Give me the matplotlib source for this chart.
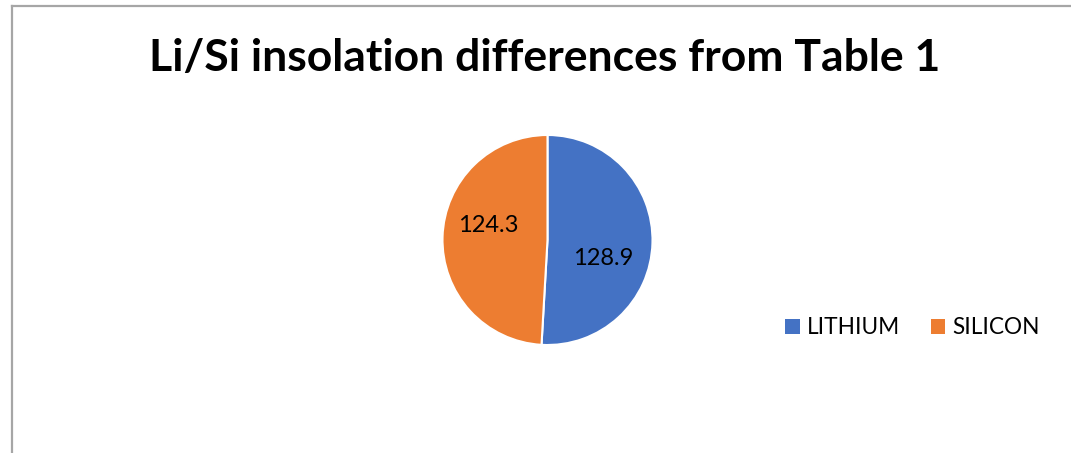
import matplotlib
matplotlib.use("Agg")
import matplotlib.pyplot as plt
from matplotlib.lines import Line2D
import numpy as np

# Data
categories = ["LITHIUM", "SILICON"]
values = [128.9, 124.3]
colors = ["#4472C4", "#ED7D31"]
title = "Li/Si insolation differences from Table 1"

W, H = 1071, 453
fig = plt.figure(figsize=(W / 100, H / 100), dpi=100)
fig.patch.set_facecolor("white")

# Chart frame (top and left edges visible)
frame_kw = dict(color="#A6A6A6", linewidth=1.6, transform=fig.transFigure)
fig.add_artist(Line2D([11.5 / W, 1.0], [1 - 5.5 / H, 1 - 5.5 / H], **frame_kw))
fig.add_artist(Line2D([11.5 / W, 11.5 / W], [0.0, 1 - 5.5 / H], **frame_kw))

fig.text(545 / W, 1 - 58 / H, title, ha="center", va="center",
         fontsize=32, fontweight="bold", family="Lato", color="#000000")

# Pie axes
cx, cy, r = 547.5, 240.0, 105.0
ax = fig.add_axes([(cx - r) / W, (H - cy - r) / H, 2 * r / W, 2 * r / H])
total = sum(values)
wedges, _texts, autotexts = ax.pie(
    values, colors=colors, startangle=90, counterclock=False,
    wedgeprops=dict(edgecolor="white", linewidth=1.5),
    autopct=lambda p: f"{p * total / 100:.1f}", pctdistance=0.57,
    textprops=dict(fontsize=17, family="Lato", color="#000000"))
ax.set_xlim(-1, 1)
ax.set_ylim(-1, 1)
ax.set_aspect("equal")

# Label placement inside each slice
label_offsets = [(0.53, -0.18), (-0.56, 0.14)]
for t, (x, y) in zip(autotexts, label_offsets):
    t.set_position((x, y))

leg = fig.legend(wedges, categories, loc="center left",
                 bbox_to_anchor=(785 / W, 1 - 328 / H), ncol=2, frameon=False,
                 prop=dict(family="Lato", size=16.3),
                 handlelength=0.66, handleheight=0.66, handletextpad=0.3,
                 columnspacing=1.35, borderaxespad=0, borderpad=0)
for h in leg.legend_handles:
    h.set_edgecolor("none")

fig.savefig("out.png", dpi=100, facecolor="white")
